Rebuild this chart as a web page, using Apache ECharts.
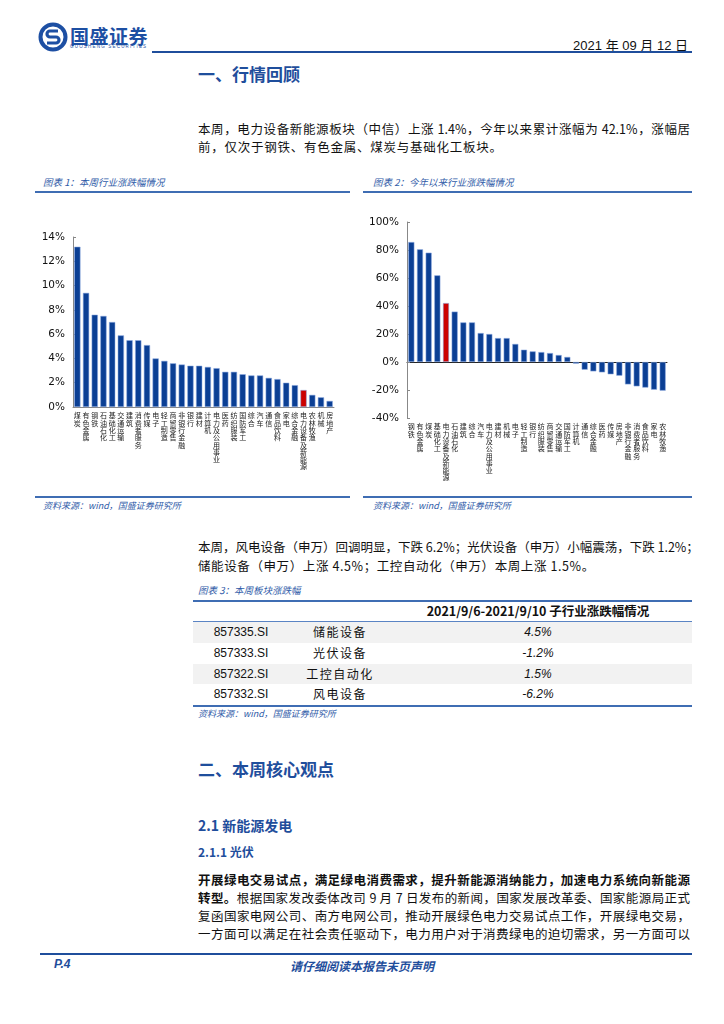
<!DOCTYPE html>
<html><head><meta charset="utf-8">
<script src="https://cdn.jsdelivr.net/npm/echarts@6/dist/echarts.min.js"></script>
<style>
html,body{margin:0;padding:0;background:#fff;}
body{width:724px;height:1024px;position:relative;overflow:hidden;font-family:"Noto Sans CJK SC","Liberation Sans",sans-serif;color:#111;}
.abs{position:absolute;white-space:nowrap;}
.blue{color:#1f4e9c;}
.h1{font-size:17px;font-weight:bold;color:#1f4e9c;}
.line{position:absolute;height:2px;background:#3f6db3;}
.cap{font-size:9.5px;font-style:italic;color:#2f5ba8;}
.src{font-size:9px;font-style:italic;color:#2f5ba8;}
.pl{position:absolute;left:198px;width:492px;font-size:12.5px;text-align:justify;text-align-last:justify;white-space:nowrap;line-height:16px;}
.tr{position:absolute;left:193px;width:499px;height:20.5px;}
.tc{position:absolute;font-size:12px;line-height:20.5px;transform:translateX(-50%);white-space:nowrap;}
</style></head>
<body>
<!-- header -->
<svg class="abs" style="left:38px;top:22px" width="30" height="30" viewBox="0 0 30 30">
  <circle cx="15" cy="15" r="12.5" fill="none" stroke="#1d4fa3" stroke-width="4"/>
  <path d="M20 9 H12 a3 3 0 0 0 0 6 H18 a3 3 0 0 1 0 6 H9" fill="none" stroke="#1d4fa3" stroke-width="3.2"/>
</svg>
<div class="abs" style="left:70px;top:22px;font-size:19px;font-weight:bold;color:#1d4fa3;letter-spacing:0.5px;">国盛证券</div>
<div class="abs" style="left:70px;top:44px;font-size:4.5px;color:#1d4fa3;letter-spacing:1.2px;font-family:'Liberation Sans';">GUOSHENG SECURITIES</div>
<div class="abs" style="right:36px;top:35px;font-size:13px;color:#111;font-family:'Liberation Sans','Noto Sans CJK SC';">2021 年 09 月 12 日</div>
<div class="line" style="left:152px;top:51px;width:540px;background:#1f4e9c;"></div>
<div class="abs h1" style="left:198px;top:61px;">一、行情回顾</div>

<div class="pl" style="top:121px;">本周，电力设备新能源板块（中信）上涨 1.4%，今年以来累计涨幅为 42.1%，涨幅居</div>
<div class="abs" style="left:198px;top:139px;font-size:12.5px;line-height:16px;letter-spacing:0.75px;">前，仅次于钢铁、有色金属、煤炭与基础化工板块。</div>

<!-- chart captions -->
<div class="abs cap" style="left:43px;top:175px;">图表 1：本周行业涨跌幅情况</div>
<div class="line" style="left:35px;top:191px;width:315px;"></div>
<div class="abs cap" style="left:373px;top:175px;">图表 2：今年以来行业涨跌幅情况</div>
<div class="line" style="left:363px;top:191px;width:329px;"></div>

<div id="c1" style="position:absolute;left:35px;top:195px;width:315px;height:300px;"></div>
<div id="c2" style="position:absolute;left:363px;top:195px;width:329px;height:300px;"></div>

<div class="line" style="left:35px;top:496px;width:315px;"></div>
<div class="abs src" style="left:43px;top:499px;">资料来源：wind，国盛证券研究所</div>
<div class="line" style="left:363px;top:496px;width:329px;"></div>
<div class="abs src" style="left:373px;top:499px;">资料来源：wind，国盛证券研究所</div>

<div class="pl" style="top:539px;">本周，风电设备（申万）回调明显，下跌 6.2%；光伏设备（申万）小幅震荡，下跌 1.2%；</div>
<div class="abs" style="left:198px;top:558px;font-size:12.5px;line-height:16px;letter-spacing:0.6px;">储能设备（申万）上涨 4.5%；工控自动化（申万）本周上涨 1.5%。</div>

<!-- table -->
<div class="abs cap" style="left:198px;top:583px;">图表 3：本周板块涨跌幅</div>
<div id="tbl"></div>

<div class="abs h1" style="left:198px;top:756px;">二、本周核心观点</div>
<div class="abs" style="left:198px;top:815px;font-size:14px;font-weight:bold;color:#1f4e9c;">2.1 新能源发电</div>
<div class="abs" style="left:198px;top:843px;font-size:12px;font-weight:bold;color:#1f4e9c;">2.1.1 光伏</div>
<div class="pl" style="top:872px;font-weight:bold;">开展绿电交易试点，满足绿电消费需求，提升新能源消纳能力，加速电力系统向新能源</div>
<div class="pl" style="top:890px;"><b>转型。</b>根据国家发改委体改司 9 月 7 日发布的新闻，国家发展改革委、国家能源局正式</div>
<div class="pl" style="top:908px;">复函国家电网公司、南方电网公司，推动开展绿色电力交易试点工作，开展绿电交易，</div>
<div class="pl" style="top:926px;">一方面可以满足在社会责任驱动下，电力用户对于消费绿电的迫切需求，另一方面可以</div>

<!-- footer -->
<div class="line" style="left:40px;top:953px;width:652px;background:#1f4e9c;"></div>
<div class="abs" style="left:54px;top:957px;font-size:12px;font-weight:bold;font-style:italic;color:#1f4e9c;font-family:'Liberation Sans';">P.4</div>
<div class="abs" style="left:290px;top:957px;font-size:12px;font-weight:bold;font-style:italic;color:#1f4e9c;">请仔细阅读本报告末页声明</div>

<script>
// ---------- data ----------
const cats1 = ['煤炭','有色金属','钢铁','石油石化','基础化工','交通运输','建筑','消费者服务','传媒','电子','轻工制造','商贸零售','非银行金融','银行','建材','计算机','电力及公用事业','医药','纺织服装','国防军工','综合','汽车','通信','食品饮料','家电','综合金融','电力设备及新能源','农林牧渔','机械','房地产'];
const vals1 = [13.2, 9.4, 7.6, 7.5, 7.0, 5.9, 5.5, 5.5, 5.1, 4.0, 3.8, 3.6, 3.5, 3.4, 3.4, 3.3, 3.2, 2.9, 2.9, 2.7, 2.6, 2.6, 2.4, 2.3, 2.0, 1.8, 1.4, 1.0, 0.8, 0.5];
const cats2 = ['钢铁','有色金属','煤炭','基础化工','电力设备及新能源','石油石化','建筑','综合','汽车','电力及公用事业','建材','机械','电子','轻工制造','银行','纺织服装','商贸零售','交通运输','国防军工','计算机','通信','综合金融','医药','传媒','房地产','非银行金融','消费者服务','食品饮料','家电','农林牧渔'];
const vals2 = [85.7, 80.5, 78.1, 61.9, 42.1, 36.0, 28.3, 28.3, 20.7, 20.0, 17.1, 17.1, 12.9, 8.8, 7.6, 7.1, 6.4, 5.0, 3.6, -1.2, -5.5, -6.7, -7.4, -8.8, -9.8, -16.0, -17.4, -18.3, -19.8, -20.5];
const highlight = '电力设备及新能源';
const yAxis1 = {min: 0, max: 14, interval: 2};
const yAxis2 = {min: -40, max: 100, interval: 20};

const tblHeader = '2021/9/6-2021/9/10 子行业涨跌幅情况';
const tblCodes = ['857335.SI','857333.SI','857322.SI','857332.SI'];
const tblNames = ['储能设备','光伏设备','工控自动化','风电设备'];
const tblVals = ['4.5%','-1.2%','1.5%','-6.2%'];

// ---------- table ----------
(function(){
  const t = document.getElementById('tbl');
  let h = '';
  h += '<div class="line" style="left:193px;top:600px;width:499px;"></div>';
  h += '<div class="abs" style="left:538px;top:602px;transform:translateX(-50%);font-size:12.5px;font-weight:bold;line-height:18px;">'+tblHeader+'</div>';
  h += '<div style="position:absolute;left:193px;top:621px;width:499px;height:1px;background:#5b84c4;"></div>';
  for (let i = 0; i < tblCodes.length; i++) {
    const top = 622 + i * 20.8;
    h += '<div class="tr" style="top:'+top+'px;background:'+(i%2===0?'#f2f2f2':'#fff')+';">'
      + '<div class="tc" style="left:48px;font-family:\'Liberation Sans\';">'+tblCodes[i]+'</div>'
      + '<div class="tc" style="left:147px;letter-spacing:1.5px;">'+tblNames[i]+'</div>'
      + '<div class="tc" style="left:345px;font-style:italic;font-family:\'Liberation Sans\';">'+tblVals[i]+'</div>'
      + '</div>';
  }
  h += '<div class="line" style="left:193px;top:705px;width:499px;"></div>';
  h += '<div class="abs src" style="left:198px;top:707px;">资料来源：wind，国盛证券研究所</div>';
  t.innerHTML = h;
})();

// ---------- charts ----------
const BLUE = '#0b3f94', RED = '#cc0000';
function barData(cats, vals) {
  return vals.map((v, i) => ({
    value: v,
    itemStyle: {color: cats[i] === highlight ? RED : BLUE}
  }));
}
const vlabel = {
  interval: 0, fontSize: 7, lineHeight: 7.3, color: '#222',
  fontFamily: 'Noto Sans CJK SC',
  formatter: v => v.split('').join('\n')
};
const ylabel = {fontSize: 10.5, color: '#111', fontFamily: 'DejaVu Sans', formatter: '{value}%', margin: 8};

const c1 = echarts.init(document.getElementById('c1'), null, {renderer: 'canvas'});
c1.setOption({
  animation: false,
  grid: {left: 38, right: 16, top: 42, bottom: 88, containLabel: false},
  xAxis: {
    type: 'category', data: cats1,
    axisLine: {lineStyle: {color: '#888', width: 1}},
    axisTick: {show: false},
    axisLabel: Object.assign({margin: 5}, vlabel)
  },
  yAxis: {
    type: 'value', min: yAxis1.min, max: yAxis1.max, interval: yAxis1.interval,
    axisLine: {show: true, lineStyle: {color: '#888'}},
    axisTick: {show: true, inside: true, length: 3, lineStyle: {color: '#888'}},
    splitLine: {show: false},
    axisLabel: ylabel
  },
  series: [{
    type: 'bar', data: barData(cats1, vals1), barWidth: '72%',
    itemStyle: {borderColor: 'rgba(140,170,225,0.9)', borderWidth: 0.6}
  }]
});

const c2 = echarts.init(document.getElementById('c2'), null, {renderer: 'canvas'});
c2.setOption({
  animation: false,
  grid: {left: 44, right: 25, top: 27, bottom: 77, containLabel: false},
  xAxis: [{
    type: 'category', data: cats2, position: 'bottom',
    axisLine: {show: false, onZero: false},
    axisTick: {show: false},
    axisLabel: Object.assign({margin: 5}, vlabel)
  }, {
    type: 'category', data: cats2, position: 'bottom',
    axisLine: {show: true, onZero: true, lineStyle: {color: '#222', width: 1}},
    axisTick: {show: false},
    axisLabel: {show: false}
  }],
  yAxis: {
    type: 'value', min: yAxis2.min, max: yAxis2.max, interval: yAxis2.interval,
    axisLine: {show: true, lineStyle: {color: '#888'}},
    axisTick: {show: true, inside: true, length: 3, lineStyle: {color: '#888'}},
    splitLine: {show: false},
    axisLabel: ylabel
  },
  series: [{
    type: 'bar', data: barData(cats2, vals2), barWidth: '70%', xAxisIndex: 0,
    itemStyle: {borderColor: 'rgba(140,170,225,0.9)', borderWidth: 0.6}
  }]
});
</script>
</body></html>
